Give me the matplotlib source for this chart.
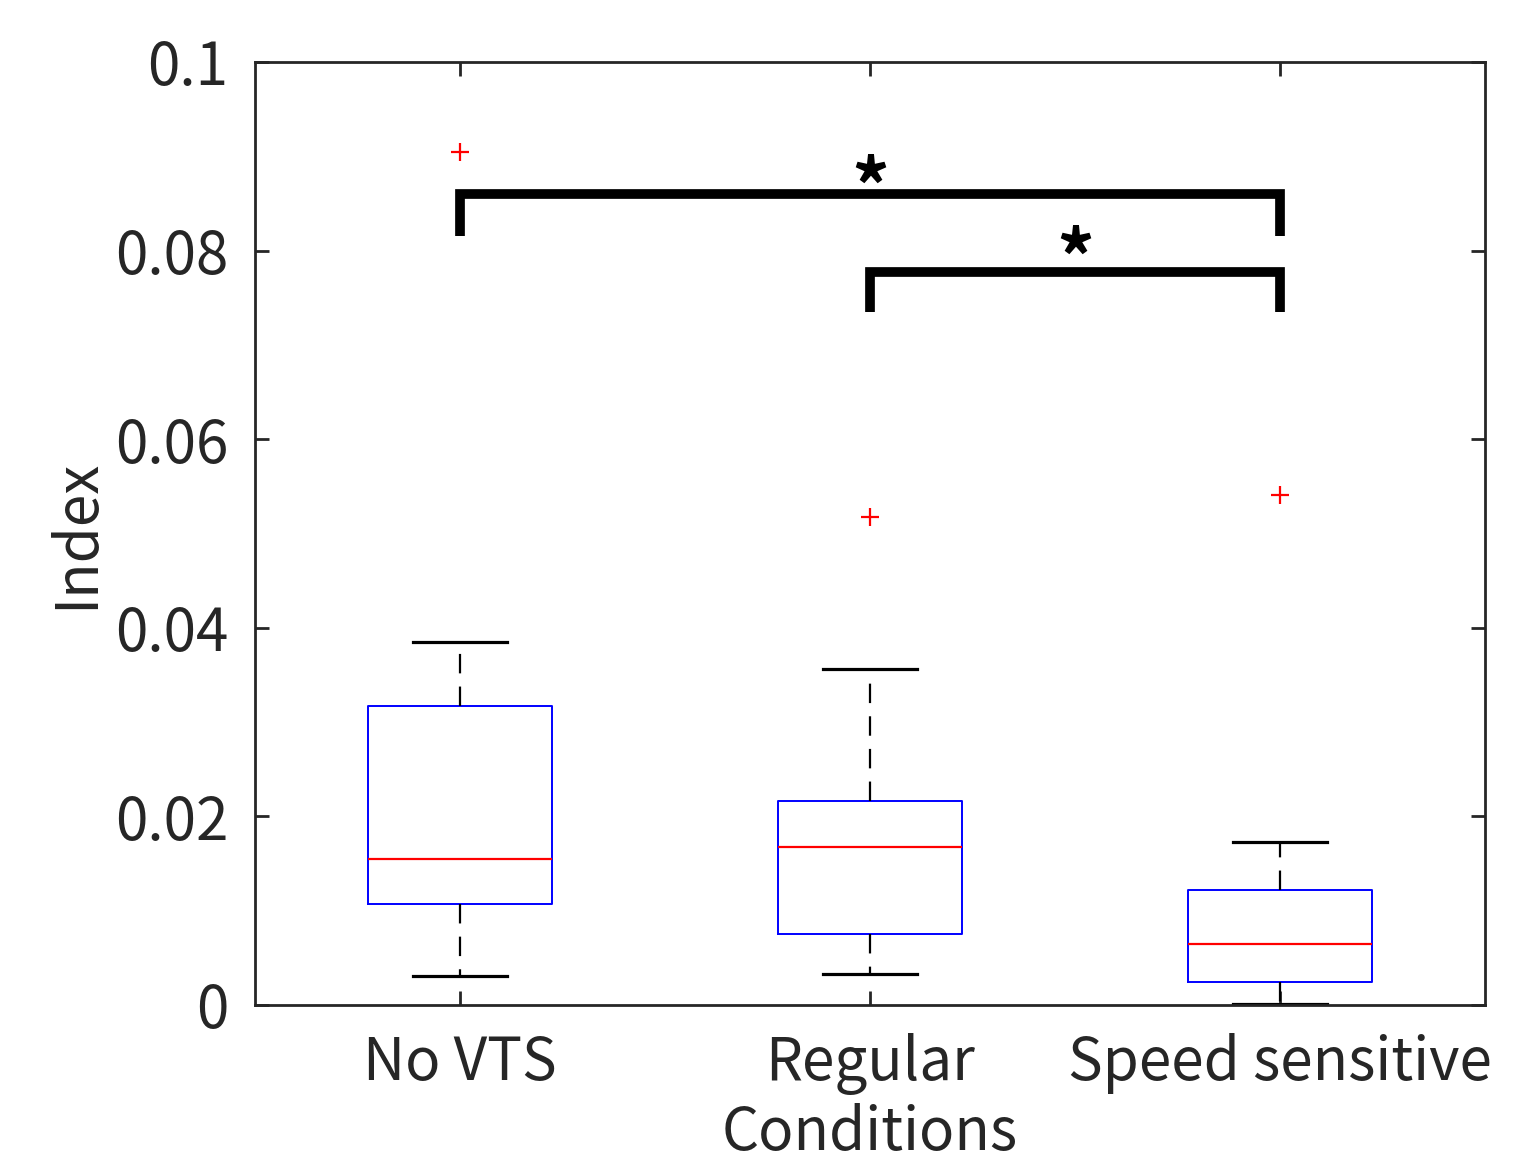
import matplotlib
matplotlib.use("Agg")
import matplotlib.pyplot as plt

plt.rcParams['font.family'] = ['Noto Sans CJK JP', 'DejaVu Sans']
plt.rcParams['lines.scale_dashes'] = False

categories = ["No VTS", "Regular", "Speed sensitive"]
q1 = [0.0107, 0.00753, 0.00244]
med = [0.01548, 0.01676, 0.00647]
q3 = [0.0317, 0.02163, 0.0122]
whislo = [0.00308, 0.00329, 0.0001]
whishi = [0.0385, 0.03563, 0.01729]
outliers = [[0.0905], [0.05175], [0.0541]]

# significance brackets: (left group, right group, top y, leg bottom y, star y)
sig_left = [1, 2]
sig_right = [3, 3]
sig_top = [0.08595, 0.07778]
sig_bottom = [0.08155, 0.07349]
sig_star_y = [0.0861, 0.0786]

yticks = [0, 0.02, 0.04, 0.06, 0.08, 0.1]
yticklabels = ["0", "0.02", "0.04", "0.06", "0.08", "0.1"]

TXT = '#262626'
fig = plt.figure(figsize=(15.32, 11.61), dpi=100)
ax = fig.add_axes([0.1664, 0.1344, 0.9693 - 0.1664, 0.9466 - 0.1344])

stats = []
for i, c in enumerate(categories):
    stats.append(dict(label=c, q1=q1[i], med=med[i], q3=q3[i],
                      whislo=whislo[i], whishi=whishi[i], fliers=outliers[i]))

ax.bxp(stats, positions=[1, 2, 3], widths=0.45, capwidths=0.23,
       boxprops=dict(color='#0000ff', linewidth=1.4),
       medianprops=dict(color='#ff0000', linewidth=1.6),
       whiskerprops=dict(color='black', linewidth=1.6, linestyle=(0, (14, 9.5))),
       capprops=dict(color='black', linewidth=2.3),
       flierprops=dict(marker='+', markeredgecolor='#ff0000', markersize=13,
                       markeredgewidth=1.6, linestyle='none'))

for l, r, t, b, sy in zip(sig_left, sig_right, sig_top, sig_bottom, sig_star_y):
    ax.plot([l, l, r, r], [b, t, t, b], color='black', linewidth=7,
            solid_capstyle='butt', solid_joinstyle='miter', clip_on=False)
    ax.text((l + r) / 2, sy, '*', ha='center', va='center', fontsize=54,
            fontweight='bold', color='black')

ax.set_xlim(0.5, 3.5)
ax.set_ylim(0, 0.1)
ax.set_yticks(yticks)
ax.set_yticklabels(yticklabels)
ax.set_xticks([1, 2, 3])
ax.set_xticklabels(categories)
ax.tick_params(direction='in', length=10, width=2, color=TXT, labelcolor=TXT,
               labelsize=42, top=True, right=True)
ax.tick_params(axis='y', pad=19)
ax.tick_params(axis='x', pad=20)
for s in ax.spines.values():
    s.set_linewidth(2)
    s.set_color(TXT)
ax.set_xlabel("Conditions", fontsize=42, color=TXT, labelpad=6)
ax.set_ylabel("Index", fontsize=42, color=TXT, labelpad=6)

fig.savefig("out.png", dpi=100)
